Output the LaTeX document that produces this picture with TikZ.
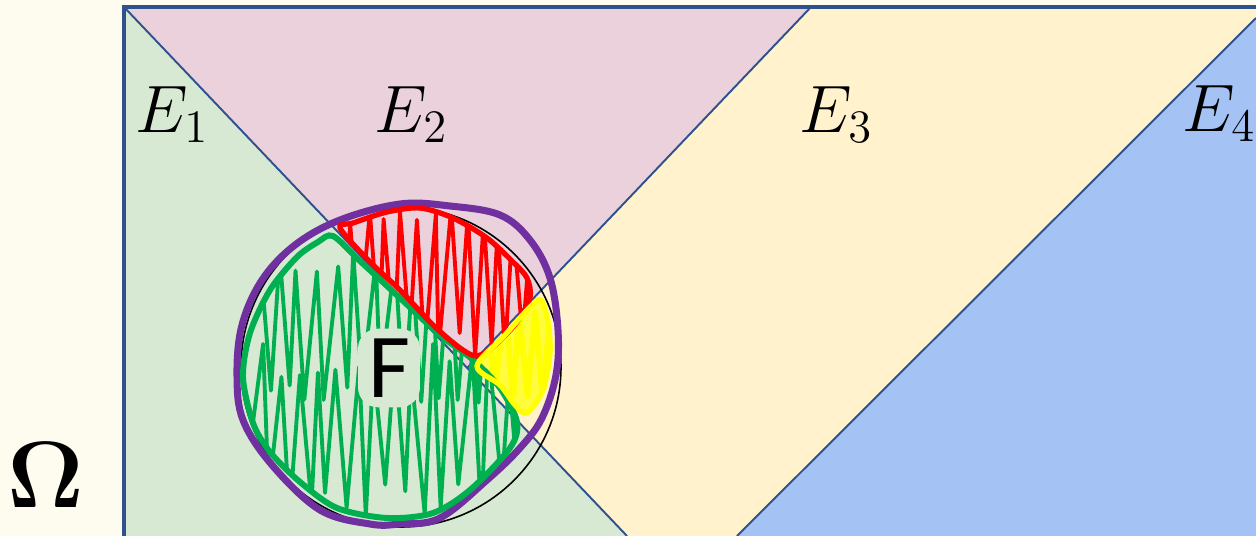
\documentclass[tikz,border=0pt]{standalone}
\usepackage[no-math]{fontspec}
\newfontfamily\carlito{Carlito}

\tikzset{
  hatchline/.style={line width=1.1pt,line join=round,line cap=round},
  region label/.style={anchor=base west,inner sep=0pt,font=\huge,scale=0.92},
}

\begin{document}
\begin{tikzpicture}[x=0.1mm,y=-0.1mm]
\definecolor{bgcream}{RGB}{254,252,238}
\definecolor{regiongreen}{RGB}{216,233,211}
\definecolor{regionpink}{RGB}{234,209,220}
\definecolor{regionyellow}{RGB}{255,242,204}
\definecolor{regionblue}{RGB}{164,194,244}
\definecolor{edgeblue}{RGB}{47,82,143}
\definecolor{penred}{RGB}{255,0,0}
\definecolor{pengreen}{RGB}{0,176,80}
\definecolor{penyellow}{RGB}{255,255,0}
\definecolor{penpurple}{RGB}{112,48,160}
\pgfmathsetseed{4242}

\fill[bgcream] (0,0) rectangle (1256,536);
\useasboundingbox (0,0) rectangle (1256,536);

\coordinate (TL) at (124,7);
\coordinate (TR) at (1256,7);
\coordinate (BL) at (124,536);
\coordinate (BR) at (1256,536);
\coordinate (A) at (627,536);
\coordinate (B) at (811,7);
\coordinate (M) at (467,368);
\coordinate (C) at (1256,18);
\coordinate (D) at (737,536);

% the four pieces of Omega
\fill[regiongreen] (TL) -- (A) -- (BL) -- cycle;
\fill[regionpink] (TL) -- (B) -- (M) -- cycle;
\fill[regionyellow] (B) -- (TR) -- (C) -- (D) -- (A) -- (M) -- cycle;
\fill[regionblue] (C) -- (BR) -- (D) -- cycle;
\draw[edgeblue,line width=0.55pt] (TL) -- (A) (B) -- (M) (C) -- (D);
\draw[edgeblue,line width=0.9pt] (BL) -- (TL) -- (TR);

% the set F
\draw[black,line width=0.45pt] (401,367) circle[radius=160];
\draw[penpurple,line width=2pt] plot[smooth cycle,tension=0.6] coordinates {
  (400,204) (450,206) (500,215) (530,240) (550,278) (558,330) (556,375)
  (542,418) (520,448) (487,480) (440,518) (400,524) (370,524) (320,510)
  (272,465) (243,420) (237,375) (242,325) (262,280) (295,245) (340,220)};

\path[save path=\greenreg] plot[smooth cycle,tension=0.5] coordinates {
  (333,236) (360,261) (400,298) (440,335) (472,359) (500,388) (517,422)
  (510,448) (470,490) (433,513) (387,518) (337,508) (300,482) (270,452)
  (253,423) (243,377) (250,333) (270,290) (297,257) (318,242)};
\path[save path=\redreg] plot[smooth cycle,tension=0.5] coordinates {
  (340,228) (370,262) (400,290) (433,325) (460,348) (477,356) (495,345)
  (517,322) (530,298) (527,278) (513,262) (487,238) (453,218) (420,208)
  (387,212) (353,223)};
\path[save path=\yellowreg] plot[smooth cycle,tension=0.5] coordinates {
  (477,366) (505,335) (530,307) (541,300) (548,322) (550,353) (543,390)
  (527,413) (515,405) (500,385)};

% scribbled hatching
\begin{scope}
  \clip[use path=\greenreg];
  \draw[pengreen,hatchline] (250,330) \foreach \i in {1,...,28}
    { -- ({250+9.5*\i+3*rand},{325+(62+18*rand)*(1-2*mod(\i,2))}) };
  \draw[pengreen,hatchline] (252,430) \foreach \i in {1,...,28}
    { -- ({252+9.5*\i+3*rand},{430+(70+18*rand)*(1-2*mod(\i,2))}) };
\end{scope}
\begin{scope}
  \clip[use path=\redreg];
  \draw[penred,hatchline] (345,282) \foreach \i in {1,...,23}
    { -- ({345+8*\i+3*rand},{282+(62+12*rand)*(1-2*mod(\i,2))}) };
\end{scope}
\fill[penyellow!70!regionyellow,use path=\yellowreg];
\begin{scope}
  \clip[use path=\yellowreg];
  \draw[penyellow,line width=1.6pt,line join=round] (480,356) \foreach \i in {1,...,9}
    { -- ({480+8*\i+2*rand},{356+(45+8*rand)*(1-2*mod(\i,2))}) };
\end{scope}
\draw[pengreen,line width=1.7pt,use path=\greenreg];
\draw[penred,line width=1.5pt,use path=\redreg];
\draw[penyellow,line width=1.5pt,use path=\yellowreg];

% labels
\node[fill=regiongreen,rounded corners=2mm,inner sep=1mm,
  font=\carlito\fontsize{26}{30}\selectfont] (setF) at (389,368) {F};
\node[region label] (e1) at (135,132) {$E_1$};
\node[region label] (e2) at (374,132) {$E_2$};
\node[region label] (e3) at (799,132) {$E_3$};
\node[region label] (e4) at (1182,131) {$E_4$};
\node[font=\Huge,scale=1.08] (omega) at (46,475) {$\mathbf{\Omega}$};
\end{tikzpicture}
\end{document}
